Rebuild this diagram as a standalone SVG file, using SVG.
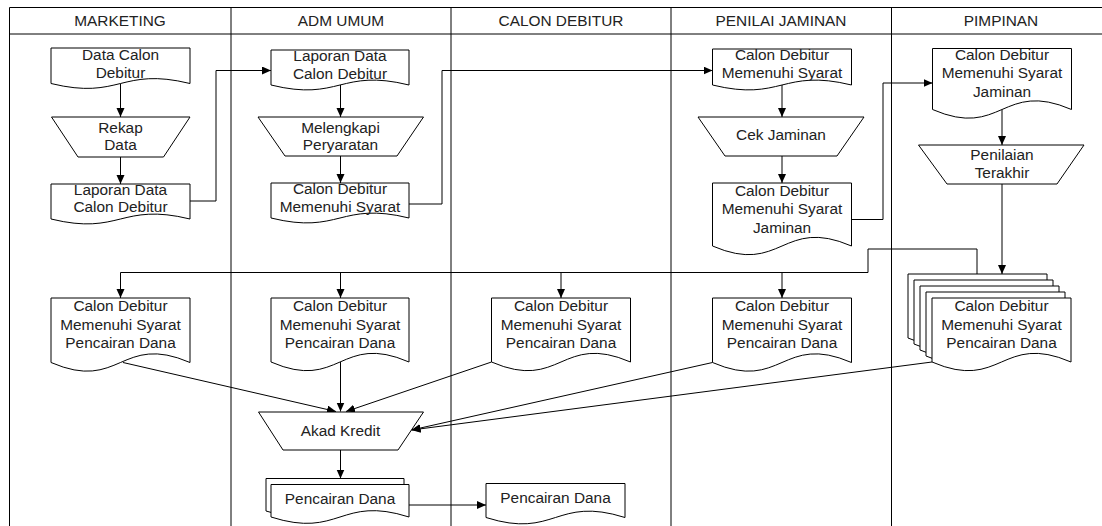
<svg xmlns="http://www.w3.org/2000/svg" xmlns:xlink="http://www.w3.org/1999/xlink" width="1102" height="526" viewBox="0 0 1102 526">
<style>
.lane{fill:none;stroke:#000;stroke-width:1}
.shape{fill:#fff;stroke:#000;stroke-width:1}
.conn{fill:none;stroke:#000;stroke-width:1}
.arr{marker-end:url(#ah)}
.t{font-family:"Liberation Sans",Arial,sans-serif;font-size:15.4px;fill:#222;text-anchor:middle}
.h{font-family:"Liberation Sans",Arial,sans-serif;font-size:15.4px;fill:#222;text-anchor:middle}
</style>
<defs>
<marker id="ah" markerUnits="userSpaceOnUse" markerWidth="10" markerHeight="9" refX="9" refY="4" orient="auto">
<path d="M0,0 L9,4 L0,8 Z" fill="#000"/>
</marker>
<path id="mdoc" d="M932,298 H1071 V362 C1001.5,332 1001.5,392 932,362 Z"/>
</defs>
<rect x="0" y="0" width="1102" height="526" fill="#fff"/>
<g id="lanes">
<path class="lane" d="M9.5,7.5 H1102 M9.5,34 H1102 M9.5,7.5 V526 M231,7.5 V526 M451,7.5 V526 M671,7.5 V526 M891.5,7.5 V526"/>
<text class="h" x="120" y="26">MARKETING</text>
<text class="h" x="341" y="26">ADM UMUM</text>
<text class="h" x="561" y="26">CALON DEBITUR</text>
<text class="h" x="781" y="26">PENILAI JAMINAN</text>
<text class="h" x="1001" y="26">PIMPINAN</text>
</g>
<g id="connectors">
<path class="conn arr" d="M120.5,83.5 V117"/>
<path class="conn arr" d="M120.5,157 V184"/>
<path class="conn arr" d="M190,201 H216 V70.5 H271"/>
<path class="conn arr" d="M340.5,85 V117"/>
<path class="conn arr" d="M340.5,156 V183"/>
<path class="conn arr" d="M409,204 H442 V70.5 H712.5"/>
<path class="conn arr" d="M782,85 V117"/>
<path class="conn arr" d="M782,156 V183"/>
<path class="conn arr" d="M851.5,219.5 H883 V83 H932.5"/>
<path class="conn arr" d="M1002,109.5 V145"/>
<path class="conn arr" d="M1002,184 V274"/>
<path class="conn arr" d="M977,274 V249 H868 V272.5 H120.5 V298"/>
<path class="conn arr" d="M340.5,272.5 V298"/>
<path class="conn arr" d="M561,272.5 V298"/>
<path class="conn arr" d="M782,272.5 V298"/>
<path class="conn arr" d="M123,362.5 L336,411.5"/>
<path class="conn arr" d="M340.5,362 V411.5"/>
<path class="conn arr" d="M491.5,362 L346,411.5"/>
<path class="conn arr" d="M712.5,362.5 L411.5,430"/>
<path class="conn arr" d="M932,362 L411.5,430"/>
<path class="conn arr" d="M340.5,450 V478.5"/>
<path class="conn arr" d="M409,505 H486"/>
</g>
<g id="m-data-calon">
<path class="shape" d="M51,48 H190 V83.5 C120.5,66.5 120.5,100.5 51,83.5 Z"/>
<text class="t" x="120.5" y="59.5">Data Calon</text>
<text class="t" x="120.5" y="77.5">Debitur</text>
</g>
<g id="m-rekap">
<path class="shape" d="M51.5,117 H190 L163.5,157 H78 Z"/>
<text class="t" x="120.5" y="132.5">Rekap</text>
<text class="t" x="120.5" y="150">Data</text>
</g>
<g id="m-laporan">
<path class="shape" d="M51,184 H190 V219 C120.5,202 120.5,236 51,219 Z"/>
<text class="t" x="120.5" y="194.5">Laporan Data</text>
<text class="t" x="120.5" y="212">Calon Debitur</text>
</g>
<g id="m-cdmspd">
<path class="shape" d="M51,298 H190 V362.5 C120.5,332.5 120.5,392.5 51,362.5 Z"/>
<text class="t" x="120.5" y="311">Calon Debitur</text>
<text class="t" x="120.5" y="329.5">Memenuhi Syarat</text>
<text class="t" x="120.5" y="348">Pencairan Dana</text>
</g>
<g id="a-laporan">
<path class="shape" d="M271,50 H409 V85 C340,68 340,102 271,85 Z"/>
<text class="t" x="340" y="61">Laporan Data</text>
<text class="t" x="340" y="79">Calon Debitur</text>
</g>
<g id="a-melengkapi">
<path class="shape" d="M258,117 H423.5 L397,156 H285 Z"/>
<text class="t" x="340.5" y="132.5">Melengkapi</text>
<text class="t" x="340.5" y="150">Peryaratan</text>
</g>
<g id="a-cdms">
<path class="shape" d="M271,183 H409 V218 C340,201 340,235 271,218 Z"/>
<text class="t" x="340" y="193.5">Calon Debitur</text>
<text class="t" x="340" y="211.5">Memenuhi Syarat</text>
</g>
<g id="a-cdmspd">
<path class="shape" d="M271,298 H409 V362 C340,332 340,392 271,362 Z"/>
<text class="t" x="340" y="311">Calon Debitur</text>
<text class="t" x="340" y="329.5">Memenuhi Syarat</text>
<text class="t" x="340" y="348">Pencairan Dana</text>
</g>
<g id="a-akad">
<path class="shape" d="M258.5,412 H423.5 L398,450 H283 Z"/>
<text class="t" x="340.5" y="435.5">Akad Kredit</text>
</g>
<g id="a-pencairan">
<path class="shape" d="M266,478.5 H404 V511 C335,489 335,533 266,511 Z"/>
<path class="shape" d="M271,484.5 H409 V517 C340,495 340,539 271,517 Z"/>
<text class="t" x="340" y="503.5">Pencairan Dana</text>
</g>
<g id="c-cdmspd">
<path class="shape" d="M491.5,298 H630.5 V362 C561,332 561,392 491.5,362 Z"/>
<text class="t" x="561" y="311">Calon Debitur</text>
<text class="t" x="561" y="329.5">Memenuhi Syarat</text>
<text class="t" x="561" y="348">Pencairan Dana</text>
</g>
<g id="c-pencairan">
<path class="shape" d="M486,483.5 H625 V517.5 C555.5,495.5 555.5,539.5 486,517.5 Z"/>
<text class="t" x="555.5" y="503">Pencairan Dana</text>
</g>
<g id="p-cdms">
<path class="shape" d="M712.5,49 H851.5 V85 C782,68 782,102 712.5,85 Z"/>
<text class="t" x="782" y="60">Calon Debitur</text>
<text class="t" x="782" y="78">Memenuhi Syarat</text>
</g>
<g id="p-cek">
<path class="shape" d="M698,117 H864 L837,156 H725 Z"/>
<text class="t" x="781" y="140">Cek Jaminan</text>
</g>
<g id="p-cdmsj">
<path class="shape" d="M712.5,183 H851.5 V246 C782,216 782,276 712.5,246 Z"/>
<text class="t" x="782" y="196">Calon Debitur</text>
<text class="t" x="782" y="214">Memenuhi Syarat</text>
<text class="t" x="782" y="232.5">Jaminan</text>
</g>
<g id="p-cdmspd">
<path class="shape" d="M712.5,298 H851.5 V362.5 C782,332.5 782,392.5 712.5,362.5 Z"/>
<text class="t" x="782" y="311">Calon Debitur</text>
<text class="t" x="782" y="329.5">Memenuhi Syarat</text>
<text class="t" x="782" y="348">Pencairan Dana</text>
</g>
<g id="pm-cdmsj">
<path class="shape" d="M932.5,48.5 H1071.5 V109.5 C1002,79.5 1002,139.5 932.5,109.5 Z"/>
<text class="t" x="1002" y="59.5">Calon Debitur</text>
<text class="t" x="1002" y="78">Memenuhi Syarat</text>
<text class="t" x="1002" y="96.5">Jaminan</text>
</g>
<g id="pm-penilaian">
<path class="shape" d="M918.5,145 H1084 L1057,184 H947 Z"/>
<text class="t" x="1002" y="160">Penilaian</text>
<text class="t" x="1002" y="178">Terakhir</text>
</g>
<g id="pm-cdmspd">
<use xlink:href="#mdoc" class="shape" transform="translate(-24,-24)"/>
<use xlink:href="#mdoc" class="shape" transform="translate(-18,-18)"/>
<use xlink:href="#mdoc" class="shape" transform="translate(-12,-12)"/>
<use xlink:href="#mdoc" class="shape" transform="translate(-6,-6)"/>
<use xlink:href="#mdoc" class="shape"/>
<text class="t" x="1001.5" y="311">Calon Debitur</text>
<text class="t" x="1001.5" y="329.5">Memenuhi Syarat</text>
<text class="t" x="1001.5" y="348">Pencairan Dana</text>
</g>
</svg>
